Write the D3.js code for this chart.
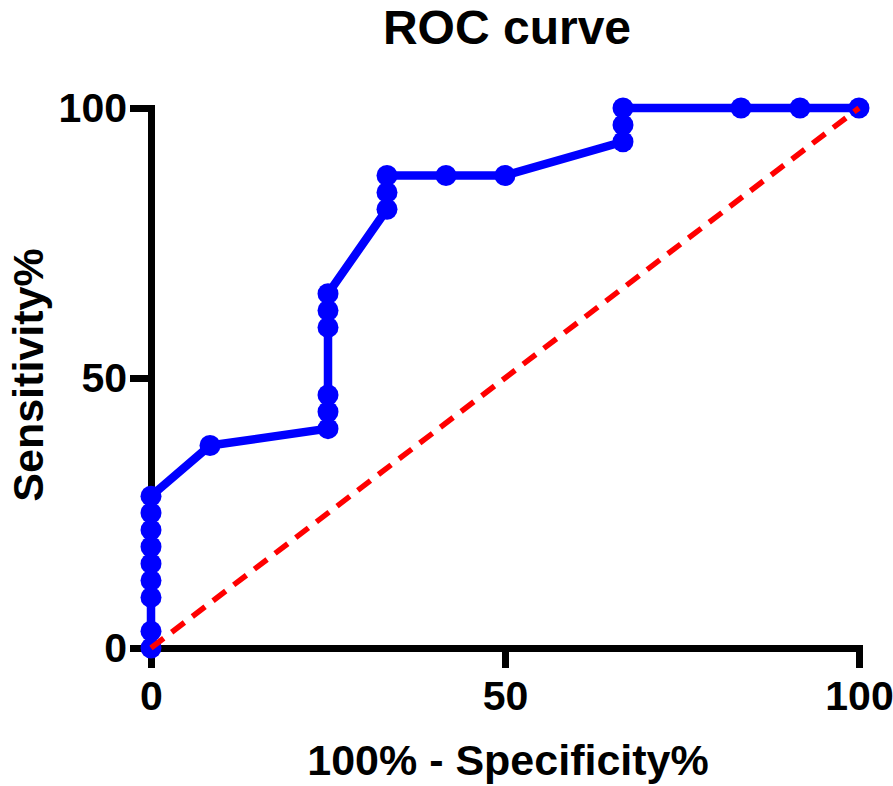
<!DOCTYPE html>
<html>
<head>
<meta charset="utf-8">
<script src="https://cdn.jsdelivr.net/npm/d3@7"></script>
<style>
  html, body { margin: 0; padding: 0; background: #fff; }
  svg { display: block; font-family: "Liberation Sans", Arial, Helvetica, sans-serif; }
</style>
</head>
<body>
<svg id="chart" width="893" height="786"></svg>
<script>
// ROC points: 100% - Specificity% (x) and Sensitivity% (y)
const fpr = [0, 0, 0, 0, 0, 0, 0, 0, 0, 8.333, 25, 25, 25, 25, 25, 25, 33.333, 33.333, 33.333, 41.667, 50, 66.667, 66.667, 66.667, 83.333, 91.667, 100];
const tpr = [0, 3.125, 9.375, 12.5, 15.625, 18.75, 21.875, 25, 28.125, 37.5, 40.625, 43.75, 46.875, 59.375, 62.5, 65.625, 81.25, 84.375, 87.5, 87.5, 87.5, 93.75, 96.875, 100, 100, 100, 100];
const refLine = [[0, 0], [100, 100]];
const xTicks = [0, 50, 100];
const yTicks = [0, 50, 100];
const title = "ROC curve";
const xLabel = "100% - Specificity%";
const yLabel = "Sensitivity%";

const svg = d3.select("#chart");
const x = d3.scaleLinear().domain([0, 100]).range([151, 859]);
const y = d3.scaleLinear().domain([0, 100]).range([648, 108]);
const AXW = 7;

// X axis
const gx = svg.append("g").attr("transform", `translate(0,${y(0)})`)
  .call(d3.axisBottom(x).tickValues(xTicks).tickSize(20).tickSizeOuter(0).tickPadding(12).tickFormat(d3.format("d")));
// Y axis
const gy = svg.append("g").attr("transform", `translate(${x(0)},0)`)
  .call(d3.axisLeft(y).tickValues(yTicks).tickSize(21).tickSizeOuter(0).tickPadding(3).tickFormat(d3.format("d")));

[gx, gy].forEach(g => {
  g.select(".domain").attr("stroke", "#000").attr("stroke-width", AXW).attr("stroke-linecap", "square");
  g.selectAll(".tick line").attr("stroke", "#000").attr("stroke-width", AXW);
  g.selectAll(".tick text").attr("fill", "#000").attr("font-size", 41).attr("font-weight", "bold")
    .attr("font-family", "'Liberation Sans', Arial, sans-serif");
});
gx.selectAll(".tick text").attr("dy", "0.72em");

// ROC curve
const pts = fpr.map((v, i) => [v, tpr[i]]);
const line = d3.line().x(d => x(d[0])).y(d => y(d[1]));
svg.append("path").datum(pts).attr("d", line)
  .attr("fill", "none").attr("stroke", "#0000FF").attr("stroke-width", 8.5).attr("stroke-linejoin", "round");
svg.append("g").selectAll("circle").data(pts).join("circle")
  .attr("cx", d => x(d[0])).attr("cy", d => y(d[1])).attr("r", 10.5).attr("fill", "#0000FF");

// Reference diagonal
svg.append("path").datum(refLine).attr("d", line)
  .attr("fill", "none").attr("stroke", "#FF0000").attr("stroke-width", 5.5)
  .attr("stroke-dasharray", "16,10");

// Titles
svg.append("text").attr("x", 507).attr("y", 44).attr("text-anchor", "middle")
  .attr("font-size", 48).attr("font-weight", "bold").attr("fill", "#000").text(title);
svg.append("text").attr("x", 508).attr("y", 775).attr("text-anchor", "middle")
  .attr("font-size", 43).attr("font-weight", "bold").attr("fill", "#000").text(xLabel);
svg.append("text").attr("transform", `translate(43,${y(50) - 3}) rotate(-90)`).attr("text-anchor", "middle")
  .attr("font-size", 43).attr("font-weight", "bold").attr("fill", "#000").text(yLabel);
</script>
</body>
</html>
